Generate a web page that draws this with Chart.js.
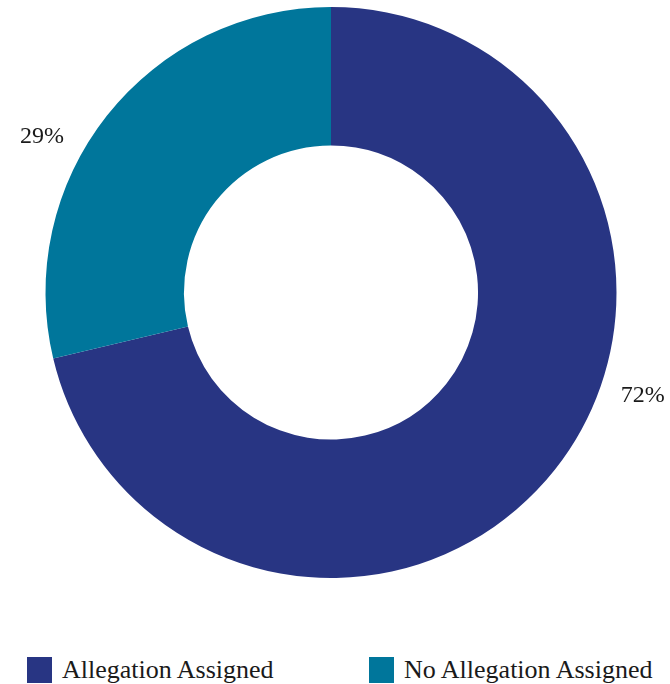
<!DOCTYPE html>
<html>
<head>
<meta charset="utf-8">
<script src="https://cdn.jsdelivr.net/npm/chart.js@4/dist/chart.umd.min.js"></script>
<style>
  html, body { margin: 0; padding: 0; background: #fff; }
  #wrap { width: 670px; height: 684px; position: relative; font-family: "Liberation Serif", serif; }
  #chartBox { position: absolute; left: 0; top: 0; width: 670px; height: 590px; }
  #legend { position: absolute; left: 0; top: 657px; width: 670px; height: 27px; }
  .item { position: absolute; top: 0; display: flex; align-items: center; height: 26px; }
  .swatch { width: 25px; height: 26px; margin-right: 10px; }
  .item span { font-size: 26px; color: #1a1a1a; line-height: 26px; white-space: nowrap; }
</style>
</head>
<body>
<div id="wrap">
  <div id="chartBox"><canvas id="allegationChart"></canvas></div>
  <div id="legend"></div>
</div>
<script>
// Chart data
const categories = ["Allegation Assigned", "No Allegation Assigned"];
const shares = [72, 29];
const sliceColors = ["#283583", "#00769b"];

// Percent labels sit outside the ring; nudge each one round from its slice middle (degrees)
const labelTurn = [-20, -10];
const labelDistance = 1.15;

const outsideLabels = {
  id: 'outsideLabels',
  afterDatasetsDraw(chart) {
    const ctx = chart.ctx;
    const meta = chart.getDatasetMeta(0);
    ctx.save();
    ctx.font = '24px "Liberation Serif", serif';
    ctx.fillStyle = '#1a1a1a';
    ctx.textAlign = 'center';
    ctx.textBaseline = 'middle';
    meta.data.forEach((arc, i) => {
      const p = arc.getProps(['x', 'y', 'startAngle', 'endAngle', 'outerRadius'], true);
      const a = (p.startAngle + p.endAngle) / 2 + labelTurn[i] * Math.PI / 180;
      const d = p.outerRadius * labelDistance;
      ctx.fillText(shares[i] + '%', p.x + Math.cos(a) * d, p.y + Math.sin(a) * d);
    });
    ctx.restore();
  }
};

const config = {
  type: 'doughnut',
  data: {
    labels: categories,
    datasets: [{
      data: shares,
      backgroundColor: sliceColors,
      borderWidth: 0
    }]
  },
  options: {
    responsive: true,
    maintainAspectRatio: false,
    animation: false,
    cutout: '51.5%',
    layout: {
      padding: { top: 7, left: 0, right: 8, bottom: 12 }
    },
    plugins: {
      tooltip: { enabled: false },
      legend: { display: false }
    }
  },
  plugins: [outsideLabels]
};

const allegationChart = new Chart(document.getElementById('allegationChart'), config);

// Legend row under the ring, built from the chart's own labels and colours
const legendLeft = [27, 369];
const legendEl = document.getElementById('legend');
allegationChart.data.labels.forEach((text, i) => {
  const item = document.createElement('div');
  item.className = 'item';
  item.style.left = legendLeft[i] + 'px';
  const sw = document.createElement('div');
  sw.className = 'swatch';
  sw.style.background = allegationChart.data.datasets[0].backgroundColor[i];
  const label = document.createElement('span');
  label.textContent = text;
  item.appendChild(sw);
  item.appendChild(label);
  legendEl.appendChild(item);
});
</script>
</body>
</html>
